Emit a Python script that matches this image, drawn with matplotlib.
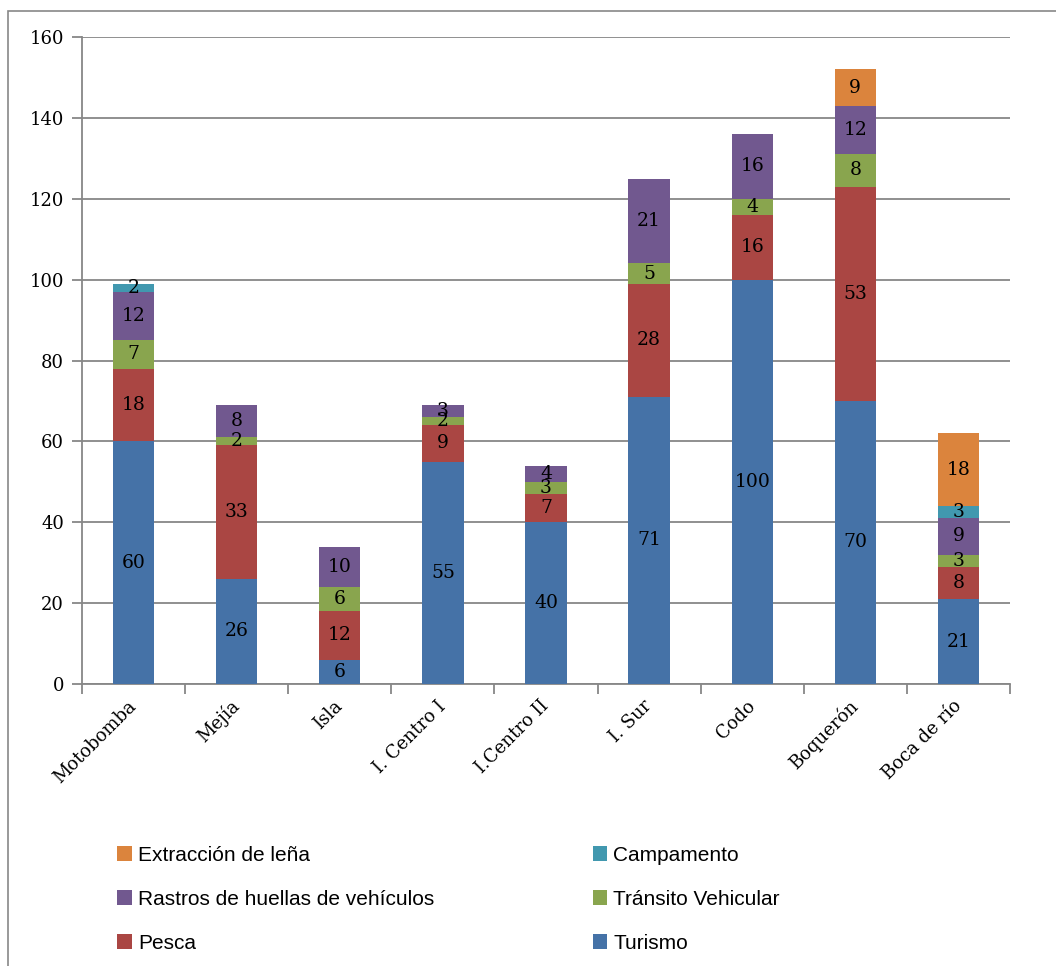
import numpy as np
import matplotlib.pyplot as plt
from matplotlib.patches import Rectangle

sitios = ['Motobomba', 'Mejía', 'Isla', 'I. Centro I', 'I.Centro II',
          'I. Sur', 'Codo', 'Boquerón', 'Boca de río']

turismo = [60, 26, 6, 55, 40, 71, 100, 70, 21]
pesca = [18, 33, 12, 9, 7, 28, 16, 53, 8]
transito = [7, 2, 6, 2, 3, 5, 4, 8, 3]
rastros = [12, 8, 10, 3, 4, 21, 16, 12, 9]
campamento = [2, 0, 0, 0, 0, 0, 0, 0, 3]
lena = [0, 0, 0, 0, 0, 0, 0, 9, 18]

series = [
    ('Turismo', turismo, '#4572A7'),
    ('Pesca', pesca, '#AA4643'),
    ('Tránsito Vehicular', transito, '#89A54E'),
    ('Rastros de huellas de vehículos', rastros, '#71588F'),
    ('Campamento', campamento, '#4198AF'),
    ('Extracción de leña', lena, '#DB843D'),
]

plt.rcParams['font.family'] = ['DejaVu Serif']
gris = '#878787'

fig = plt.figure(figsize=(10.56, 9.66), dpi=100)
ax = fig.add_axes([0.0777, 0.2919, 0.9564 - 0.0777, 0.9617 - 0.2919])

# marco exterior del gráfico
fig.patches.append(Rectangle((8 / 1056, -0.01), 1.0, 1 - 11 / 966 + 0.01,
                             transform=fig.transFigure, fill=False,
                             edgecolor=gris, linewidth=1.2))

x = np.arange(len(sitios))
base = np.zeros(len(sitios))
barras = {}
for nombre, vals, color in series:
    vals = np.array(vals, dtype=float)
    b = ax.bar(x, vals, 0.4, bottom=base, color=color, zorder=3)
    barras[nombre] = b
    for xi, v, b0 in zip(x, vals, base):
        if v > 0:
            ax.text(xi, b0 + v / 2, f'{int(v)}', ha='center', va='center',
                    fontsize=13.5, color='black', zorder=4)
    base += vals

ax.set_xlim(-0.5, len(sitios) - 0.5)
ax.set_ylim(0, 160)
ax.set_yticks(np.arange(0, 161, 20))
ax.yaxis.grid(True, color=gris, linewidth=1.3, zorder=0)
ax.set_axisbelow(True)

for s in ['top', 'right']:
    ax.spines[s].set_visible(False)
for s in ['left', 'bottom']:
    ax.spines[s].set_color(gris)
    ax.spines[s].set_linewidth(1.3)

ax.tick_params(axis='y', length=7, width=1.3, color=gris, labelsize=13, pad=6)

# marcas del eje x entre categorías
ax.set_xticks(np.arange(-0.5, len(sitios)), minor=False)
ax.set_xticklabels([])
ax.set_xticks(x, minor=True)
ax.set_xticklabels(sitios, minor=True, rotation=45, ha='right', va='center',
                   rotation_mode='anchor', fontsize=13)
ax.tick_params(axis='x', which='major', length=7, width=1.3, color=gris)
ax.tick_params(axis='x', which='minor', length=0, pad=14)

orden = ['Extracción de leña', 'Rastros de huellas de vehículos', 'Pesca',
         'Campamento', 'Tránsito Vehicular', 'Turismo']
leg = fig.legend([barras[n] for n in orden], orden, ncol=2,
                 loc='upper left', bbox_to_anchor=(0.103, 0.133),
                 frameon=False, prop={'family': 'Liberation Sans', 'size': 15},
                 handlelength=0.7, handleheight=0.7, handletextpad=0.3,
                 columnspacing=7.6, labelspacing=1.2, borderaxespad=0)

fig.savefig('out.png', dpi=100)
